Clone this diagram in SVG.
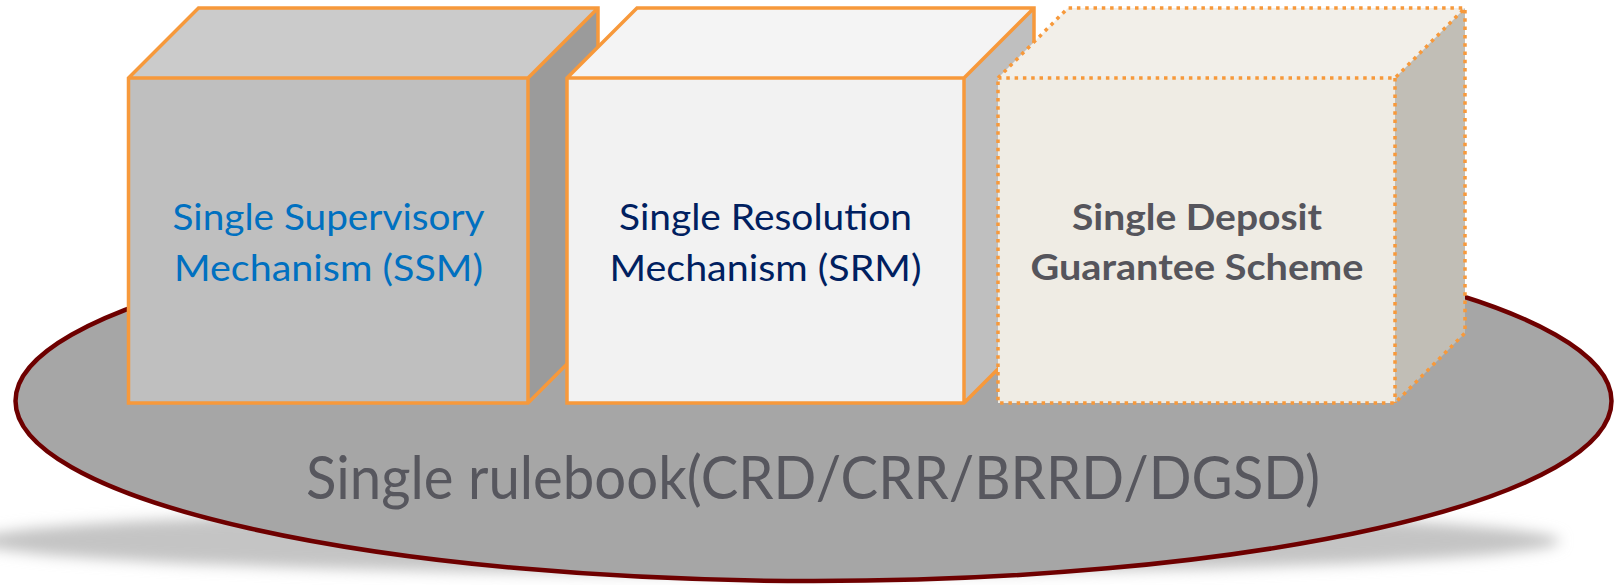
<svg xmlns="http://www.w3.org/2000/svg" width="1614" height="585" viewBox="0 0 1614 585">
<defs>
<filter id="blur" x="-10%" y="-100%" width="120%" height="300%"><feGaussianBlur stdDeviation="7"/></filter>
<style>
.edge{fill:none;stroke:#F7993B;stroke-width:3.5;stroke-linejoin:miter}
.dot{fill:none;stroke:#F7993B;stroke-width:3.5;stroke-dasharray:3.5 4.8;stroke-linejoin:miter}
.lbl{font-family:Lato,"Open Sans",sans-serif;font-size:37px;text-anchor:middle}
</style>
</defs>
<rect width="1614" height="585" fill="#FFFFFF"/>
<g id="base">
<ellipse cx="768" cy="541" rx="792" ry="33" fill="#C4C4C4" filter="url(#blur)"/>
<ellipse cx="813.5" cy="401" rx="798" ry="180" fill="#A6A6A6" stroke="#6E0000" stroke-width="4.5"/>
<text x="813" y="499" font-family="Lato,'Open Sans',sans-serif" font-size="60" fill="#57575E" text-anchor="middle" textLength="1014" lengthAdjust="spacingAndGlyphs">Single rulebook(CRD/CRR/BRRD/DGSD)</text>
</g>
<g id="ssm">
<polygon points="128.5,78 198.5,8 598,8 528,78" fill="#CBCBCB"/>
<polygon points="528,78 598,8 598,333 528,403" fill="#9B9B9B"/>
<rect x="128.5" y="78" width="399.5" height="325" fill="#BFBFBF"/>
<path class="edge" d="M128.5,78 L198.5,8 L598,8 L598,333 L528,403 L128.5,403 Z M128.5,78 L528,78 L598,8 M528,78 L528,403"/>
<text class="lbl" x="328.5" y="230" fill="#0070C0" textLength="312" lengthAdjust="spacingAndGlyphs">Single Supervisory</text>
<text class="lbl" x="328.5" y="281" fill="#0070C0" textLength="309" lengthAdjust="spacingAndGlyphs">Mechanism (SSM)</text>
</g>
<g id="srm">
<polygon points="567,78 637,8 1034,8 964,78" fill="#F4F4F4"/>
<polygon points="964,78 1034,8 1034,333 964,403" fill="#BFBFBF"/>
<rect x="567" y="78" width="397" height="325" fill="#F2F2F2"/>
<path class="edge" d="M567,78 L637,8 L1034,8 L1034,333 L964,403 L567,403 Z M567,78 L964,78 L1034,8 M964,78 L964,403"/>
<text class="lbl" x="765.5" y="230" fill="#002060" textLength="293" lengthAdjust="spacingAndGlyphs">Single Resolution</text>
<text class="lbl" x="765.5" y="281" fill="#002060" textLength="312" lengthAdjust="spacingAndGlyphs">Mechanism (SRM)</text>
</g>
<g id="dgs">
<polygon points="998,78 1068,8 1465,8 1395,78" fill="#F2EFE9"/>
<polygon points="1395,78 1465,8 1465,333 1395,403" fill="#C1BEB6"/>
<rect x="998" y="78" width="397" height="325" fill="#EFECE4"/>
<path class="dot" d="M998,78 L1068,8 L1465,8 L1465,333 L1395,403 L998,403 Z M998,78 L1395,78 L1465,8 M1395,78 L1395,403"/>
<text class="lbl" x="1197" y="230" fill="#55555C" font-weight="bold" textLength="250" lengthAdjust="spacingAndGlyphs">Single Deposit</text>
<text class="lbl" x="1197" y="280" fill="#55555C" font-weight="bold" textLength="333" lengthAdjust="spacingAndGlyphs">Guarantee Scheme</text>
</g>
<g id="connectors"/>
</svg>
